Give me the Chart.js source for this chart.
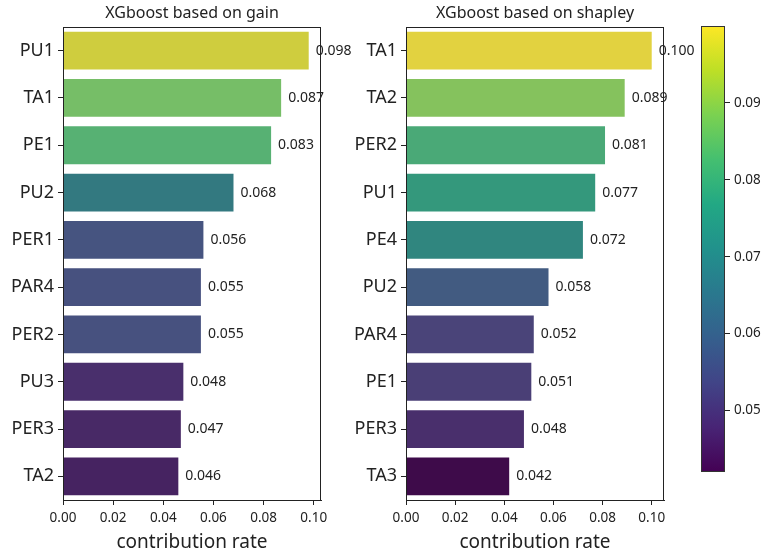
<!DOCTYPE html>
<html>
<head>
<meta charset="utf-8">
<script src="https://cdn.jsdelivr.net/npm/chart.js@4"></script>
<style>
  body { margin: 0; background: #fff; }
  #wrap { position: relative; width: 767px; height: 554px; }
  #wrap div { position: absolute; top: 0; height: 554px; }
</style>
</head>
<body>
<div id="wrap">
  <div style="left:0;width:360px"><canvas id="gainChart"></canvas></div>
  <div style="left:340px;width:360px"><canvas id="shapChart"></canvas></div>
  <div style="left:695px;width:72px"><canvas id="cbarChart"></canvas></div>
</div>
<script>
// data
var gainLabels = ['PU1', 'TA1', 'PE1', 'PU2', 'PER1', 'PAR4', 'PER2', 'PU3', 'PER3', 'TA2'];
var gainValues = [0.098, 0.087, 0.083, 0.068, 0.056, 0.055, 0.055, 0.048, 0.047, 0.046];
var shapLabels = ['TA1', 'TA2', 'PER2', 'PU1', 'PE4', 'PU2', 'PAR4', 'PE1', 'PER3', 'TA3'];
var shapValues = [0.100, 0.089, 0.081, 0.077, 0.072, 0.058, 0.052, 0.051, 0.048, 0.042];
var xTicks = [0, 0.02, 0.04, 0.06, 0.08, 0.10];
var cbarTicks = [0.05, 0.06, 0.07, 0.08, 0.09];

var cbMin = Math.min.apply(null, shapValues);
var cbMax = Math.max.apply(null, shapValues);

// viridis colormap, 11 anchors
var viridis = ['#440154', '#482475', '#414487', '#355f8d', '#2a788e', '#21918c',
               '#22a884', '#44bf70', '#7ad151', '#bddf26', '#fde725'];

function hexRgb(h) {
    return [parseInt(h.substr(1, 2), 16), parseInt(h.substr(3, 2), 16), parseInt(h.substr(5, 2), 16)];
}
function cmap(t) {
    t = Math.max(0, Math.min(1, t));
    var p = t * 10, i = Math.min(9, Math.floor(p)), f = p - i;
    var a = hexRgb(viridis[i]), b = hexRgb(viridis[i + 1]);
    return [0, 1, 2].map(function (k) { return a[k] + (b[k] - a[k]) * f; });
}
// seaborn style desaturation (saturation 0.75)
function desat(rgb, s) {
    var r = rgb[0] / 255, g = rgb[1] / 255, b = rgb[2] / 255;
    var mx = Math.max(r, g, b), mn = Math.min(r, g, b);
    var l = (mx + mn) / 2, h = 0, sat = 0, d = mx - mn;
    if (d > 0) {
        sat = l > 0.5 ? d / (2 - mx - mn) : d / (mx + mn);
        if (mx === r) h = ((g - b) / d + (g < b ? 6 : 0)) / 6;
        else if (mx === g) h = ((b - r) / d + 2) / 6;
        else h = ((r - g) / d + 4) / 6;
    }
    sat *= s;
    function hue(p, q, t) {
        if (t < 0) t += 1; if (t > 1) t -= 1;
        if (t < 1 / 6) return p + (q - p) * 6 * t;
        if (t < 1 / 2) return q;
        if (t < 2 / 3) return p + (q - p) * (2 / 3 - t) * 6;
        return p;
    }
    var q = l < 0.5 ? l * (1 + sat) : l + sat - l * sat, p = 2 * l - q;
    return 'rgb(' + Math.round(hue(p, q, h + 1 / 3) * 255) + ',' +
        Math.round(hue(p, q, h) * 255) + ',' + Math.round(hue(p, q, h - 1 / 3) * 255) + ')';
}
function barColors(vals) {
    return vals.map(function (v) { return desat(cmap((v - cbMin) / (cbMax - cbMin)), 0.75); });
}

var FONT = "'Noto Sans', 'Open Sans', sans-serif";
var INK = '#222';

// frame, panel title and value labels
var panelPlugin = {
    id: 'panelPlugin',
    afterDatasetsDraw: function (chart, args, opts) {
        var ctx = chart.ctx, a = chart.chartArea;
        ctx.save();
        ctx.strokeStyle = INK;
        ctx.lineWidth = 1;
        ctx.strokeRect(a.left + 0.5, a.top + 0.5, a.right - a.left - 1, a.bottom - a.top);
        ctx.fillStyle = INK;
        ctx.font = '16px ' + FONT;
        ctx.textAlign = 'center';
        ctx.textBaseline = 'middle';
        ctx.fillText(opts.title, (a.left + a.right) / 2, 13);
        ctx.font = '14px ' + FONT;
        ctx.textAlign = 'left';
        var meta = chart.getDatasetMeta(0);
        var vals = chart.data.datasets[0].data;
        meta.data.forEach(function (bar, i) {
            ctx.fillText(vals[i].toFixed(3), bar.x + 7, bar.y);
        });
        ctx.restore();
    }
};

function panel(id, labels, values, title, xmax, yWidth, padRight) {
    return new Chart(document.getElementById(id), {
        type: 'bar',
        data: {
            labels: labels,
            datasets: [{
                data: values,
                backgroundColor: barColors(values),
                borderWidth: 0,
                barPercentage: 0.8,
                categoryPercentage: 1
            }]
        },
        options: {
            indexAxis: 'y',
            responsive: true,
            maintainAspectRatio: false,
            animation: false,
            layout: { padding: { top: 27, right: padRight, left: 0, bottom: 0 } },
            plugins: {
                legend: { display: false },
                tooltip: { enabled: false },
                panelPlugin: { title: title }
            },
            scales: {
                x: {
                    min: 0,
                    max: xmax,
                    afterBuildTicks: function (s) { s.ticks = xTicks.map(function (v) { return { value: v }; }); },
                    afterFit: function (s) { s.height = 54; },
                    grid: { drawOnChartArea: false, tickLength: 5, color: INK },
                    border: { color: INK },
                    ticks: {
                        padding: 5,
                        color: INK,
                        font: { family: FONT, size: 13.5 },
                        callback: function (v) { return Number(v).toFixed(2); }
                    },
                    title: {
                        display: true,
                        text: 'contribution rate',
                        color: INK,
                        font: { family: FONT, size: 19 },
                        padding: { top: 0, bottom: 0 }
                    }
                },
                y: {
                    afterFit: function (s) { s.width = yWidth; },
                    grid: { drawOnChartArea: false, offset: false, tickLength: 5, color: INK },
                    border: { color: INK },
                    ticks: { padding: 4, color: INK, font: { family: FONT, size: 18 } }
                }
            }
        },
        plugins: [panelPlugin]
    });
}

panel('gainChart', gainLabels, gainValues, 'XGboost based on gain', 0.098 * 1.05, 63, 39);
panel('shapChart', shapLabels, shapValues, 'XGboost based on shapley', 0.100 * 1.05, 66, 36);

// colorbar
var cbarFrame = {
    id: 'cbarFrame',
    afterDatasetsDraw: function (chart) {
        var ctx = chart.ctx, a = chart.chartArea;
        ctx.save();
        ctx.strokeStyle = '#333';
        ctx.lineWidth = 1;
        ctx.strokeRect(a.left + 0.5, a.top + 0.5, a.right - a.left - 1, a.bottom - a.top - 1);
        ctx.restore();
    }
};

new Chart(document.getElementById('cbarChart'), {
    type: 'bar',
    data: {
        labels: [''],
        datasets: [{
            data: [[cbMin, cbMax]],
            borderWidth: 0,
            barPercentage: 1,
            categoryPercentage: 1,
            backgroundColor: function (c) {
                var a = c.chart.chartArea;
                if (!a) return '#21918c';
                var g = c.chart.ctx.createLinearGradient(0, a.bottom, 0, a.top);
                viridis.forEach(function (col, i) { g.addColorStop(i / 10, col); });
                return g;
            }
        }]
    },
    options: {
        responsive: true,
        maintainAspectRatio: false,
        animation: false,
        layout: { padding: { top: 26, bottom: 82, left: 6, right: 0 } },
        plugins: { legend: { display: false }, tooltip: { enabled: false } },
        scales: {
            x: { display: false },
            y: {
                position: 'right',
                min: cbMin,
                max: cbMax,
                afterBuildTicks: function (s) { s.ticks = cbarTicks.map(function (v) { return { value: v }; }); },
                afterFit: function (s) { s.width = 42; },
                grid: { drawOnChartArea: false, tickLength: 5, color: INK },
                border: { display: false },
                ticks: {
                    padding: 4,
                    color: INK,
                    font: { family: FONT, size: 13.5 },
                    callback: function (v) { return Number(v).toFixed(2); }
                }
            }
        }
    },
    plugins: [cbarFrame]
});
</script>
</body>
</html>
